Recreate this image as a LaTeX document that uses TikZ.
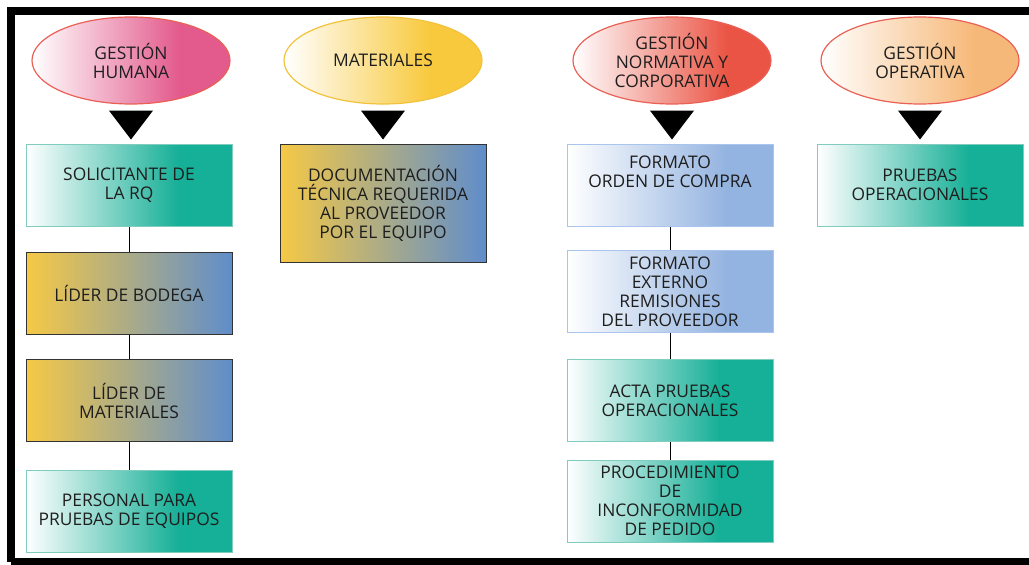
\documentclass[tikz,border=0pt]{standalone}
\usepackage{fontspec}
\setmainfont{Open Sans}
\usetikzlibrary{shapes.geometric,calc}

% palette
\definecolor{pinkc}{HTML}{E35B8C}
\definecolor{yellowc}{HTML}{F8C93C}
\definecolor{redc}{HTML}{EA5444}
\definecolor{orangec}{HTML}{F6B878}
\definecolor{tealc}{HTML}{16AF97}
\definecolor{tealedge}{HTML}{80CCBE}
\definecolor{bluec}{HTML}{93B3E0}
\definecolor{blueedge}{HTML}{A9C5EE}
\definecolor{goldc}{HTML}{F6C945}
\definecolor{steelc}{HTML}{5F8DCB}
\definecolor{ovaledge}{HTML}{EA6055}
\definecolor{goldedge}{HTML}{F2C23C}
\definecolor{inkc}{HTML}{1E1E1E}

% white-to-colour fades (node spans 25bp..75bp of the shading)
\pgfdeclarehorizontalshading{pinksh}{100bp}{color(0bp)=(white); color(25bp)=(white); color(62bp)=(pinkc); color(100bp)=(pinkc)}
\pgfdeclarehorizontalshading{yellowsh}{100bp}{color(0bp)=(white); color(25bp)=(white); color(62bp)=(yellowc); color(100bp)=(yellowc)}
\pgfdeclarehorizontalshading{redsh}{100bp}{color(0bp)=(white); color(25bp)=(white); color(64bp)=(redc); color(100bp)=(redc)}
\pgfdeclarehorizontalshading{orangesh}{100bp}{color(0bp)=(white); color(25bp)=(white); color(64bp)=(orangec); color(100bp)=(orangec)}
\pgfdeclarehorizontalshading{tealsh}{100bp}{color(0bp)=(white); color(25bp)=(white); color(62bp)=(tealc); color(100bp)=(tealc)}
\pgfdeclarehorizontalshading{bluesh}{100bp}{color(0bp)=(white); color(25bp)=(white); color(64bp)=(bluec); color(100bp)=(bluec)}
\pgfdeclarehorizontalshading{goldsh}{100bp}{color(0bp)=(goldc); color(25bp)=(goldc); color(75bp)=(steelc); color(100bp)=(steelc)}

\begin{document}
\begin{tikzpicture}[x=1pt,y=-1pt,
  txt/.style={font=\fontsize{17.4}{19}\selectfont, text=inkc, align=center},
  oval/.style={ellipse, txt, minimum width=198pt, minimum height=87pt, inner sep=0pt, line width=1.2pt, shade},
  card/.style={rectangle, txt, minimum width=206pt, minimum height=82pt, inner sep=0pt, line width=1pt, shade},
  tealcard/.style={card, shading=tealsh, draw=tealedge},
  bluecard/.style={card, shading=bluesh, draw=blueedge},
  goldcard/.style={card, shading=goldsh, draw=black!80},
  link/.style={draw=black, line width=1pt},
  pointer/.style={fill=black},
  frame/.style={draw=black, line width=8pt}
]
\useasboundingbox (0,0) rectangle (1029,565);
\clip (0,0) rectangle (1029,565);

% outer frame
\draw[frame] (11,562) -- (11,11) -- (1045,11);
\draw[frame] (11,562) -- (1045,562);

% headers
\node[oval, shading=pinksh, draw=ovaledge]  (gh) at (131,60.5) {GESTIÓN\\HUMANA};
\node[oval, shading=yellowsh, draw=goldedge] (mat) at (383,60.5) {MATERIALES};
\node[oval, shading=redsh, draw=ovaledge]   (gn) at (672,60.5) {GESTIÓN\\NORMATIVA Y\\CORPORATIVA};
\node[oval, shading=orangesh, draw=ovaledge] (go) at (920,60.5) {GESTIÓN\\OPERATIVA};

% column 1
\node[tealcard] (solic) at (129,185)   {SOLICITANTE DE\\LA RQ};
\node[goldcard] (bodega) at (129,293)  {LÍDER DE BODEGA};
\node[goldcard] (lmat) at (129,400.5)  {LÍDER DE\\MATERIALES};
\node[tealcard] (pers) at (129,511)    {PERSONAL PARA\\PRUEBAS DE EQUIPOS};

% column 2
\node[goldcard, minimum height=118pt] (docu) at (383,203) {DOCUMENTACIÓN\\TÉCNICA REQUERIDA\\AL PROVEEDOR\\POR EL EQUIPO};

% column 3
\node[bluecard] (fmt) at (670,185)     {FORMATO\\ORDEN DE COMPRA\\[7pt]\mbox{}};
\node[bluecard] (ext) at (670,291.5)   {FORMATO\\EXTERNO\\REMISIONES\\DEL PROVEEDOR};
\node[tealcard] (acta) at (670,400.5)  {ACTA PRUEBAS\\OPERACIONALES};
\node[tealcard] (proc) at (670,501)    {PROCEDIMIENTO\\DE\\INCONFORMIDAD\\DE PEDIDO};

% column 4
\node[tealcard] (pruebas) at (920,185) {PRUEBAS\\OPERACIONALES};

% pointers from headers to first cards
\foreach \e/\b in {gh/solic, mat/docu, gn/fmt, go/pruebas}{
  \fill[pointer] ($(\e.south)+(-22,6)$) -- ($(\e.south)+(22,6)$)
    -- ($(\e.south |- \b.north)+(0,-4)$) -- cycle;
}

% connectors
\draw[link] (solic) -- (bodega);
\draw[link] (bodega) -- (lmat);
\draw[link] (lmat) -- (pers);
\draw[link] (fmt) -- (ext);
\draw[link] (ext) -- (acta);
\draw[link] (acta) -- (proc);
\end{tikzpicture}
\end{document}
